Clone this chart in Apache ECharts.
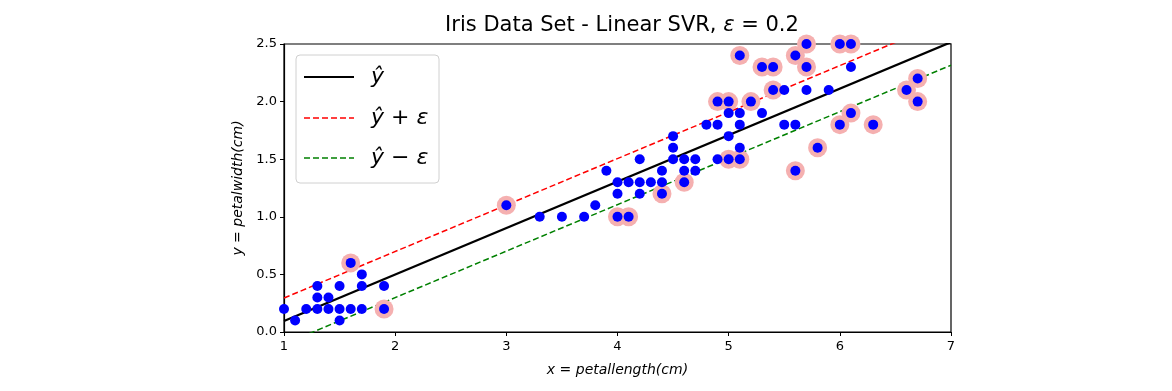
<!DOCTYPE html>
<html>
<head>
<meta charset="utf-8">
<script src="https://cdn.jsdelivr.net/npm/echarts@6/dist/echarts.min.js"></script>
<style>html,body{margin:0;padding:0;background:#fff;}#c{width:1172px;height:391px;}</style>
</head>
<body>
<div id="c"></div>
<script>
// Observed iris samples [petal length, petal width]
var points = [
  [1.0,0.2],[1.1,0.1],[1.2,0.2],[1.3,0.2],[1.3,0.3],[1.3,0.4],[1.4,0.2],[1.4,0.3],
  [1.5,0.1],[1.5,0.2],[1.5,0.4],[1.6,0.2],[1.6,0.6],[1.7,0.2],[1.7,0.4],[1.7,0.5],
  [1.9,0.2],[1.9,0.4],
  [3.0,1.1],[3.3,1.0],[3.5,1.0],[3.7,1.0],[3.8,1.1],[3.9,1.4],[4.0,1.0],[4.0,1.2],
  [4.0,1.3],[4.1,1.0],[4.1,1.3],[4.2,1.2],[4.2,1.3],[4.2,1.5],[4.3,1.3],[4.4,1.2],
  [4.4,1.3],[4.4,1.4],[4.5,1.5],[4.5,1.6],[4.5,1.7],[4.6,1.3],[4.6,1.4],[4.6,1.5],
  [4.7,1.4],[4.7,1.5],[4.8,1.8],[4.9,1.5],[4.9,1.8],[4.9,2.0],[5.0,1.5],[5.0,1.7],
  [5.0,1.9],[5.0,2.0],[5.1,1.5],[5.1,1.6],[5.1,1.8],[5.1,1.9],[5.1,2.4],[5.2,2.0],
  [5.3,1.9],[5.3,2.3],[5.4,2.1],[5.4,2.3],[5.5,1.8],[5.5,2.1],[5.6,1.4],[5.6,1.8],
  [5.6,2.4],[5.7,2.1],[5.7,2.3],[5.7,2.5],[5.8,1.6],[5.9,2.1],[6.0,1.8],[6.0,2.5],
  [6.1,1.9],[6.1,2.3],[6.1,2.5],[6.3,1.8],[6.6,2.1],[6.7,2.0],[6.7,2.2]
];
// Support vectors (highlighted)
var supportVectors = [
  [1.6,0.6],[1.9,0.2],[3.0,1.1],[4.0,1.0],[4.1,1.0],[4.4,1.2],[4.6,1.3],[4.9,2.0],
  [5.0,1.5],[5.0,2.0],[5.1,1.5],[5.1,2.4],[5.2,2.0],[5.3,2.3],[5.4,2.1],[5.4,2.3],
  [5.6,1.4],[5.6,2.4],[5.7,2.3],[5.7,2.5],[5.8,1.6],[6.0,1.8],[6.0,2.5],[6.1,1.9],
  [6.1,2.5],[6.3,1.8],[6.6,2.1],[6.7,2.0],[6.7,2.2]
];
// Fitted line end points
var lineX = [1, 7];
var yHat = [0.095, 2.516];
var yHatPlus = [0.295, 2.716];
var yHatMinus = [-0.105, 2.316];
var xTicks = [1, 2, 3, 4, 5, 6, 7];
var yTicks = [0.0, 0.5, 1.0, 1.5, 2.0, 2.5];

function pairs(xs, ys){ return xs.map(function(x,i){ return [x, ys[i]]; }); }

var chart = echarts.init(document.getElementById('c'), null, {renderer:'canvas'});
var font = 'DejaVu Sans';
chart.setOption({
  animation: false,
  backgroundColor: '#fff',
  title: {
    text: '{n|Iris Data Set - Linear SVR, }{i|ε}{n| = 0.2}',
    left: 617, textAlign: 'center', top: 10,
    textStyle: {
      fontWeight: 'normal',
      rich: {
        n: {fontFamily: font, fontSize: 21, fontWeight: 'normal', color: '#000'},
        i: {fontFamily: font, fontSize: 21, fontWeight: 'normal', fontStyle: 'italic', color: '#000'}
      }
    }
  },
  grid: {left: 284, right: 221, top: 44, bottom: 59, show: true, borderColor: '#000', borderWidth: 1.2, backgroundColor: 'transparent'},
  xAxis: {
    type: 'value', min: 1, max: 7, interval: 1,
    name: 'x = petallength(cm)', nameLocation: 'middle', nameGap: 31,
    nameTextStyle: {fontFamily: font, fontSize: 14, fontStyle: 'italic', color: '#000'},
    axisLine: {show: true, lineStyle: {color: '#000', width: 1.2}},
    axisTick: {show: true, length: 4, lineStyle: {color: '#000'}},
    axisLabel: {fontFamily: font, fontSize: 13, color: '#000', margin: 8,
      formatter: function(v){ return xTicks.indexOf(v) >= 0 ? String(v) : ''; }},
    splitLine: {show: false}
  },
  yAxis: {
    type: 'value', min: 0, max: 2.5, interval: 0.5,
    name: 'y = petalwidth(cm)', nameLocation: 'middle', nameGap: 38,
    nameTextStyle: {fontFamily: font, fontSize: 14, fontStyle: 'italic', color: '#000'},
    axisLine: {show: true, lineStyle: {color: '#000', width: 1.2}},
    axisTick: {show: true, length: 4, lineStyle: {color: '#000'}},
    axisLabel: {fontFamily: font, fontSize: 13, color: '#000', margin: 7,
      formatter: function(v){ return v.toFixed(1); }},
    splitLine: {show: false}
  },
  series: [
    {type: 'line', data: pairs(lineX, yHat), symbol: 'none', clip: true,
      lineStyle: {color: '#000', width: 2.2}, z: 2},
    {type: 'line', data: pairs(lineX, yHatPlus), symbol: 'none', clip: true,
      lineStyle: {color: '#ff0000', width: 1.5, type: [6, 3]}, z: 2},
    {type: 'line', data: pairs(lineX, yHatMinus), symbol: 'none', clip: true,
      lineStyle: {color: '#008000', width: 1.5, type: [6, 3]}, z: 2},
    {type: 'scatter', data: supportVectors, symbolSize: 19, clip: false,
      itemStyle: {color: '#f5b0b0', opacity: 1}, z: 3},
    {type: 'scatter', data: points, symbolSize: 10, clip: false,
      itemStyle: {color: '#0000ff', opacity: 1}, z: 4}
  ],
  graphic: [
    {type: 'rect', shape: {x: 296, y: 55, width: 143, height: 128, r: 4}, z: 100,
      style: {fill: 'rgba(255,255,255,0.85)', stroke: '#d0d0d0', lineWidth: 1}},
    {type: 'line', shape: {x1: 304, y1: 77, x2: 354, y2: 77}, z: 101,
      style: {stroke: '#000', lineWidth: 2.2}},
    {type: 'line', shape: {x1: 304, y1: 118, x2: 354, y2: 118}, z: 101,
      style: {stroke: '#ff0000', lineWidth: 1.5, lineDash: [6, 3]}},
    {type: 'line', shape: {x1: 304, y1: 158, x2: 354, y2: 158}, z: 101,
      style: {stroke: '#008000', lineWidth: 1.5, lineDash: [6, 3]}},
    {type: 'text', x: 371, y: 77, z: 101,
      style: {text: 'ŷ', fontFamily: font, fontSize: 22, fontStyle: 'italic', fill: '#000', verticalAlign: 'middle'}},
    {type: 'text', x: 371, y: 118, z: 101,
      style: {text: '{i|ŷ}{n| + }{i|ε}', verticalAlign: 'middle',
        rich: {i: {fontFamily: font, fontSize: 22, fontStyle: 'italic', fill: '#000'}, n: {fontFamily: font, fontSize: 22, fill: '#000'}}}},
    {type: 'text', x: 371, y: 158, z: 101,
      style: {text: '{i|ŷ}{n| − }{i|ε}', verticalAlign: 'middle',
        rich: {i: {fontFamily: font, fontSize: 22, fontStyle: 'italic', fill: '#000'}, n: {fontFamily: font, fontSize: 22, fill: '#000'}}}}
  ]
});
</script>
</body>
</html>
